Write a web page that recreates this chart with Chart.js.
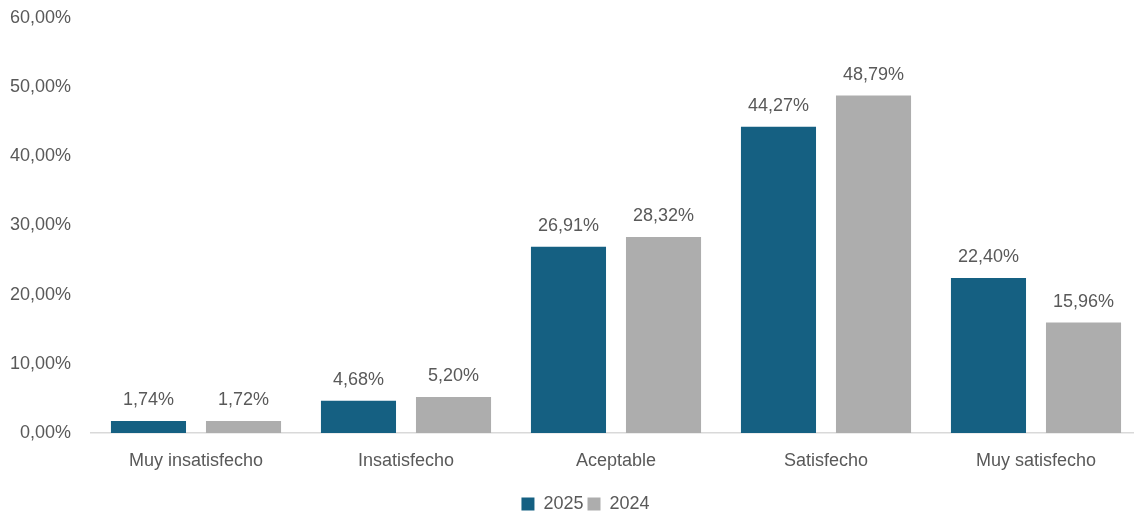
<!DOCTYPE html>
<html>
<head>
<meta charset="utf-8">
<script src="https://cdn.jsdelivr.net/npm/chart.js@4"></script>
<style>
html,body{margin:0;padding:0;background:#fff;overflow:hidden;}
#wrap{position:relative;width:1134px;height:514px;overflow:hidden;}
</style>
</head>
<body>
<div id="wrap"><canvas id="c" width="1141" height="523"></canvas></div>
<script>
const categories = ["Muy insatisfecho", "Insatisfecho", "Aceptable", "Satisfecho", "Muy satisfecho"];
const values2025 = [1.74, 4.68, 26.91, 44.27, 22.40];
const values2024 = [1.72, 5.20, 28.32, 48.79, 15.96];
const seriesNames = ["2025", "2024"];
const yTicks = [0, 10, 20, 30, 40, 50, 60];

const FONT = "'Liberation Sans', Arial, sans-serif";
const TXT = "#595959";
const fmt = v => v.toFixed(2).replace(".", ",") + "%";

const labelPlugin = {
  id: "barLabels",
  afterLayout(chart) {
    if (chart.legend) { chart.legend.left += 15; chart.legend.right += 15; }
  },
  afterDatasetsDraw(chart) {
    const ctx = chart.ctx;
    ctx.save();
    ctx.font = "18px " + FONT;
    ctx.fillStyle = TXT;
    ctx.textAlign = "center";
    ctx.textBaseline = "middle";
    chart.data.datasets.forEach((ds, i) => {
      chart.getDatasetMeta(i).data.forEach((bar, j) => {
        ctx.fillText(fmt(ds.data[j]), bar.x, bar.y - 21);
      });
    });
    ctx.restore();
  }
};

new Chart(document.getElementById("c"), {
  type: "bar",
  data: {
    labels: categories,
    datasets: [
      { label: seriesNames[0], data: values2025, backgroundColor: "#156082" },
      { label: seriesNames[1], data: values2024, backgroundColor: "#ADADAD" }
    ]
  },
  options: {
    responsive: false,
    animation: false,
    devicePixelRatio: 1,
    layout: { padding: { top: 18, right: 0, left: 0, bottom: 0 } },
    datasets: { bar: { categoryPercentage: 0.905, barPercentage: 0.79 } },
    plugins: {
      legend: {
        position: "bottom",
        labels: {
          font: { size: 18, family: FONT },
          color: TXT,
          boxWidth: 13,
          boxHeight: 13,
          padding: 4
        }
      },
      tooltip: { enabled: false }
    },
    scales: {
      x: {
        grid: { display: false, drawTicks: false },
        border: { display: true, color: "#D9D9D9", width: 1.5 },
        ticks: { font: { size: 18, family: FONT }, color: TXT, padding: 17 },
        afterFit(s) { s.height = 58; s.paddingLeft = 0; s.paddingRight = 0; }
      },
      y: {
        min: 0, max: 60,
        grid: { display: false, drawTicks: false },
        border: { display: false },
        afterBuildTicks(s) { s.ticks = yTicks.map(v => ({ value: v })); },
        ticks: {
          font: { size: 18, family: FONT }, color: TXT, padding: 20,
          callback: v => fmt(v)
        },
        afterFit(s) { s.width = 91; s.paddingTop = 0; s.paddingBottom = 0; }
      }
    }
  },
  plugins: [labelPlugin]
});
</script>
</body>
</html>
